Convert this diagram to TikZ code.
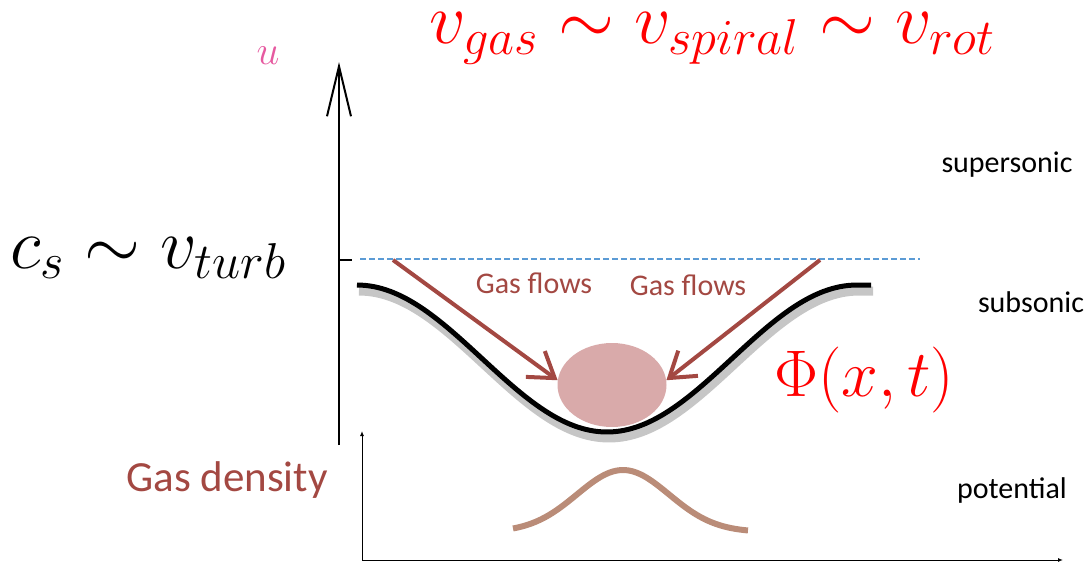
\RequirePackage{fix-cm}
\documentclass[tikz,border=0pt]{standalone}
\usepackage{fontspec}
\newfontfamily\calib{Carlito}
\usetikzlibrary{arrows.meta,shapes.geometric}
\definecolor{flowred}{RGB}{163,72,66}
\definecolor{blobpink}{RGB}{217,170,170}
\definecolor{dashblue}{RGB}{91,155,213}
\definecolor{upink}{RGB}{230,90,160}
\definecolor{bumptan}{RGB}{186,140,120}
\tikzset{
  flow/.style={flowred, line width=4pt, -{Straight Barb[length=24pt,width=32pt]}},
  flowtext/.style={flowred, font=\calib\fontsize{30}{32}\selectfont},
  regime/.style={black, font=\calib\fontsize{30}{32}\selectfont},
  bigmath/.style={red, inner sep=0pt, font=\fontsize{72}{80}\selectfont}
}
\begin{document}
\begin{tikzpicture}[x=1pt, y=-1pt]
   \useasboundingbox (0,0) rectangle (1090,563);
   % velocity axis
   \coordinate (ubot) at (339,445);
   \coordinate (utop) at (339,62);
   \draw[line width=2pt, -{Straight Barb[length=50pt,width=24pt]}] (ubot) -- (utop);
   \draw[line width=2pt] (339,260) -- (352,260);
   \draw[dashblue, line width=1.5pt, dash pattern=on 6pt off 3pt] (360,259) -- (920,259);
   % the trough
   \node[ellipse, fill=blobpink, minimum width=109pt, minimum height=84pt, inner sep=0pt] (blob) at (612,385) {};
   \draw[gray!45, line width=9pt, shift={(2,6)}] plot[domain=-180:180, samples=60, smooth]
     ({607+1.389*\x}, {285+73.5*(1+cos(\x))}) -- (871,285);
   \draw[black, line width=5pt] plot[domain=-180:180, samples=60, smooth]
     ({607+1.389*\x}, {285+73.5*(1+cos(\x))}) -- (871,285);
   \coordinate (srcl) at (393,260);
   \coordinate (srcr) at (820,260);
   \draw[flow] (srcl) -- (blob.175);
   \draw[flow] (srcr) -- (blob.5);
   \node[flowtext] (flowleft) at (534,283) {Gas flows};
   \node[flowtext] (flowright) at (688,285) {Gas flows};
   % labels
   \node[bigmath] (title) at (712,38) {$v_{gas}\sim v_{spiral}\sim v_{rot}$};
   \node[font=\fontsize{72}{80}\selectfont] (cs) at (148,258) {$c_s\sim v_{turb}$};
   \node[bigmath, font=\fontsize{66}{72}\selectfont] (phi) at (864,380) {$\Phi(x,t)$};
   \node[upink, font=\fontsize{41}{44}\selectfont] (ulabel) at (268,56) {$u$};
   \node[regime] (supersonic) at (1007,165) {supersonic};
   \node[regime] (subsonic) at (1031,302) {subsonic};
   \node[regime] (potential) at (1012,490) {potential};
   \node[flowtext, font=\calib\fontsize{43}{45}\selectfont] (gasdensity) at (227,480) {Gas density};
   % density axes
   \coordinate (origin) at (362,560);
   \coordinate (dtop) at (362,431);
   \coordinate (dright) at (1063,560);
   \draw[line width=1pt, -{Latex[length=5pt,width=4pt]}] (origin) -- (dtop);
   \draw[line width=1pt, -{Latex[length=5pt,width=4pt]}] (origin) -- (dright);
   \draw[bumptan, line width=6pt] plot[domain=-1.1:1.25, samples=60, smooth]
     ({623+100*\x}, {532-62*exp(-(\x*\x)/0.423)});
\end{tikzpicture}
\end{document}
